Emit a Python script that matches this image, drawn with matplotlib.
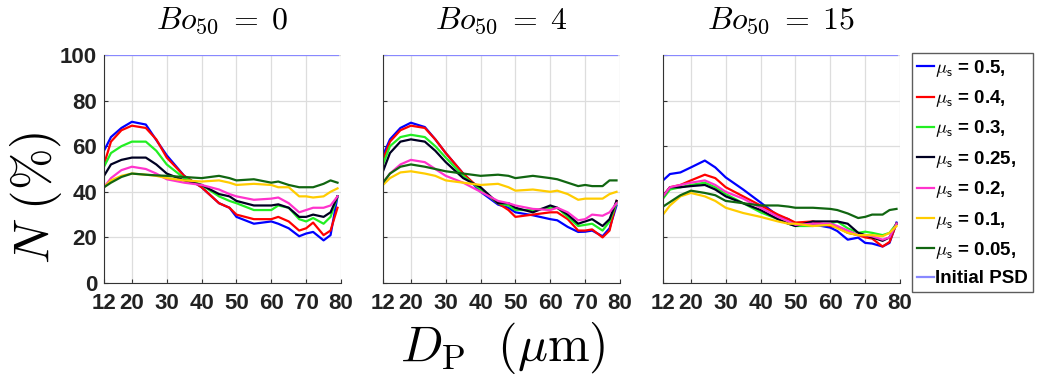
import numpy as np
import matplotlib; matplotlib.use("Agg")
import matplotlib.pyplot as plt

plt.rcParams["font.family"] = ["Liberation Sans", "DejaVu Sans"]
plt.rcParams["mathtext.fontset"] = "cm"

DP = [12, 14, 17, 20, 24, 27, 30, 35, 40, 45, 48, 50, 55, 60, 62, 65, 68, 70, 72, 75, 77, 79]
TITLES = [r"$Bo_{50}\;=\;0$", r"$Bo_{50}\;=\;4$", r"$Bo_{50}\;=\;15$"]
MU = ["0.5", "0.4", "0.3", "0.25", "0.2", "0.1", "0.05"]
COLORS = ["#0000ff", "#ff0000", "#22ee22", "#000022", "#ff33cc", "#ffcc00", "#116611"]
PSD_X = [12, 79]; PSD_Y = [100, 100]

# Bo50 = 0
N_BO0 = [
    [58, 64, 68, 70.7, 69.5, 62.7, 56, 47, 42, 35, 33, 29, 26, 27, 26, 24, 20.5, 21.7, 22.4, 18.7, 21, 38],
    [52, 62, 67, 69, 68, 63, 55, 47, 42, 35, 33, 30, 28, 28, 29, 27, 23, 24, 26.5, 21, 23, 33],
    [51, 57, 60, 62, 62, 58, 52, 46, 43, 38, 36, 35, 32, 32, 34, 33, 28, 27, 28.5, 26, 29, 38],
    [47, 52, 54, 55, 55, 52, 48, 45, 43, 39, 38, 36, 34, 34, 34.5, 33, 29, 29, 30, 29, 31, 38],
    [42, 46, 49.5, 51, 50, 48, 45.5, 44, 43, 41, 39, 38, 36.5, 37, 37.5, 35, 31, 32, 33, 33, 34, 38],
    [42, 45, 47, 48, 47.5, 47, 46, 45, 44.5, 45, 44, 43, 43.5, 43, 42, 42, 38, 38, 37.5, 38, 40, 41.5],
    [42, 44, 46.5, 48, 47.5, 47.2, 47, 46.5, 46, 47, 46, 45, 45.5, 44, 44.5, 43, 42, 42, 42, 43.5, 45, 44],
]
# Bo50 = 4
N_BO4 = [
    [56, 63, 68, 70.3, 68.4, 63, 57, 48, 40, 34.4, 33, 31, 29.7, 28, 27.5, 24.6, 22.4, 22.5, 23, 20.5, 24, 34],
    [54, 62, 67, 69, 68, 63, 57, 48, 41, 35, 32, 29, 30, 31, 31, 28, 23, 23, 23.5, 20, 23, 36],
    [52, 60, 64, 65, 64, 60, 55, 47, 41, 35, 34, 32, 32, 33, 33, 29, 25, 25.5, 26, 23, 27, 35],
    [49, 57, 62, 63, 62, 58, 53, 46, 42, 35, 35, 33, 31, 34, 33, 30, 26, 27, 28, 25, 28, 36],
    [44, 48, 52, 54, 53, 50, 47, 44, 40, 36, 35, 34, 32.5, 32, 33, 31, 27.5, 28, 30, 29.5, 31, 35],
    [43, 46, 48.5, 49, 48, 47, 45, 44, 43, 43.5, 42, 40.5, 41, 40, 40.5, 39, 36.5, 37, 37, 37, 39, 40],
    [44, 48, 51, 52, 51, 50, 49, 48, 47, 47.5, 47, 46, 47, 46, 45.5, 44, 42.5, 43, 42.5, 42.5, 45, 45],
]
# Bo50 = 15
N_BO15 = [
    [45, 47.8, 48.5, 50.7, 53.7, 50.7, 46.3, 41, 35.3, 29.4, 28, 25.7, 25.7, 24.3, 22.8, 19, 19.9, 17.6, 17.3, 16, 17.6, 26.5],
    [38.2, 42, 43, 45, 47.5, 46, 42, 38, 34, 30, 28, 26.5, 27, 25, 24.5, 22, 21, 20, 19.5, 16, 18, 26],
    [37, 41, 42, 43, 44, 42, 39, 35, 31, 28, 26, 25, 25, 26, 27, 24, 22, 22.5, 22, 21, 22, 26],
    [38, 42, 42, 42.5, 43, 41, 38, 35, 32, 28, 26, 25, 27, 27, 27, 26, 22, 21, 20, 18.5, 20, 26],
    [38, 42, 43, 44, 45, 43, 40, 37, 33, 29, 27, 25.5, 26, 26, 25, 23, 21, 21, 20.5, 19, 20, 26],
    [30, 34, 38, 39.5, 38, 36, 33, 30.7, 29, 27, 26, 26, 25, 25.5, 24, 22, 21, 21, 21, 20.5, 22, 25],
    [33.5, 35.5, 38.5, 40.5, 39.5, 38.5, 36, 35, 34, 34, 33.5, 33, 33, 32.5, 32, 30.5, 28.5, 29, 30, 30, 32, 32.5],
]

W, H = 1039, 382
fig = plt.figure(figsize=(W/100, H/100), dpi=100)
lefts = [104, 383, 663]
axes = []
for i, (left, data) in enumerate(zip(lefts, [N_BO0, N_BO4, N_BO15])):
    ax = fig.add_axes([left/W, 1-283/H, 237/W, 228/H])
    for y, c, m in zip(data, COLORS, MU):
        ax.plot(DP, y, color=c, lw=1.6, label=r"$\mu_{\mathsf{s}}$ = %s," % m)
    ax.plot(PSD_X, PSD_Y, color="#8888ff", lw=1.6, label="Initial PSD")
    ax.set_xlim(12, 80); ax.set_ylim(0, 100)
    ax.set_xticks([12, 20, 30, 40, 50, 60, 70, 80])
    ax.set_yticks([0, 20, 40, 60, 80, 100])
    ax.grid(color="#dddddd", lw=0.9); ax.set_axisbelow(True)
    for s in ["top", "right"]: ax.spines[s].set_visible(False)
    for s in ["left", "bottom"]: ax.spines[s].set_color("#333333")
    ax.tick_params(direction="in", length=3, color="#333333", labelsize=16)
    ax.tick_params(axis="x", pad=7); ax.tick_params(axis="y", pad=5)
    for lab in ax.get_xticklabels() + ax.get_yticklabels():
        lab.set_fontweight("bold"); lab.set_color("#222222")
    if i > 0: ax.set_yticklabels([])
    ax.text(0.5, 1.118, TITLES[i], transform=ax.transAxes, fontsize=23, ha="center", va="baseline")
    axes.append(ax)

fig.text(36/W, 1-198/H, r"$N\ (\%)$", fontsize=36, rotation=90, ha="center", va="center")
fig.text(503/W, 1-348/H, r"$D_{\rm P}\ \ (\mu{\rm m})$", fontsize=36, ha="center", va="center")

h, l = axes[2].get_legend_handles_labels()
leg = fig.legend(h, l, loc="upper left", bbox_to_anchor=(912/W, 1-53/H), bbox_transform=fig.transFigure,
                 frameon=True, fancybox=False, edgecolor="#333333", handlelength=0.9, handletextpad=0.1,
                 labelspacing=0.5, borderpad=0.25, borderaxespad=0, prop=dict(size=13.5, weight="bold"))
leg.get_frame().set_linewidth(1.0)

fig.savefig("out.png", dpi=100)
